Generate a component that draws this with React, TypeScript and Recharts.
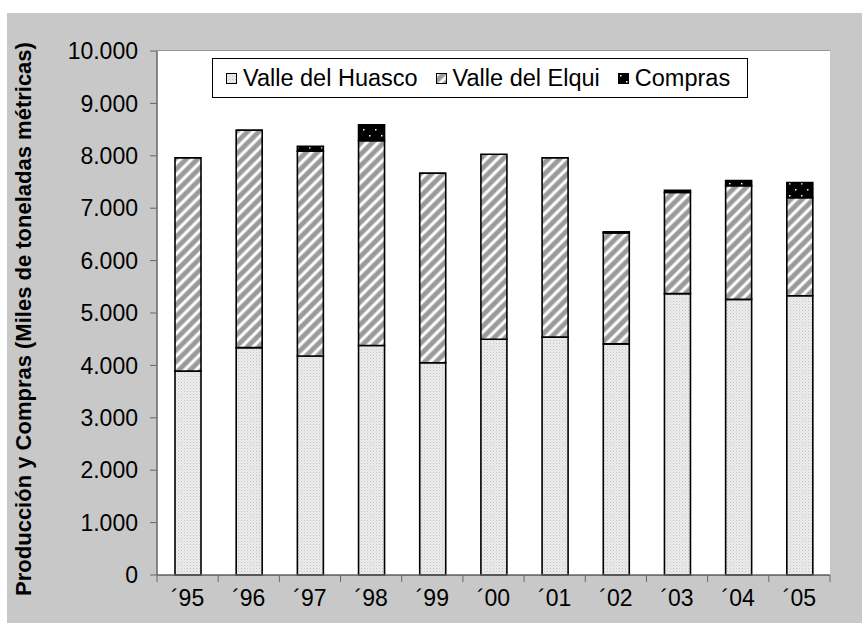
import { Bar, BarChart, CartesianGrid, XAxis, YAxis } from "recharts";

const years = ["´95", "´96", "´97", "´98", "´99", "´00", "´01", "´02", "´03", "´04", "´05"];
const huasco = [3890, 4340, 4180, 4380, 4050, 4500, 4540, 4410, 5370, 5260, 5330];
const elqui = [4070, 4150, 3910, 3910, 3620, 3530, 3420, 2120, 1930, 2170, 1870];
const compras = [0, 0, 90, 300, 0, 0, 0, 20, 40, 100, 290];
const yTicks = [0, 1000, 2000, 3000, 4000, 5000, 6000, 7000, 8000, 9000, 10000];

const series = [
  { key: "huasco", name: "Valle del Huasco", fill: "url(#patHuasco)" },
  { key: "elqui", name: "Valle del Elqui", fill: "url(#patElqui)" },
  { key: "compras", name: "Compras", fill: "url(#patCompras)" },
];

const data = years.map((year, i) => ({
  year,
  huasco: huasco[i],
  elqui: elqui[i],
  compras: compras[i],
}));

const W = 855;
const H = 610;
const MARGIN = { top: 38, right: 32, bottom: 0, left: 0 };
const Y_W = 150;
const X_H = 48;
const BAND = (W - MARGIN.left - MARGIN.right - Y_W) / years.length;
const FONT = "'Liberation Sans', Arial, sans-serif";

const fmt = (v: number) => String(v).replace(/\B(?=(\d{3})+(?!\d))/g, ".");

const XTick = (props: any) => {
  const { x, y, payload, index } = props;
  return (
    <g>
      {index === 0 && (
        <line x1={x - BAND / 2} x2={x - BAND / 2} y1={y} y2={y + 7} stroke="#666" />
      )}
      <line x1={x + BAND / 2} x2={x + BAND / 2} y1={y} y2={y + 7} stroke="#666" />
      <text x={x} y={y + 31} textAnchor="middle" fontSize={23} fill="#000" fontFamily={FONT}>
        {payload.value}
      </text>
    </g>
  );
};

const YLabel = (props: any) => {
  const { viewBox } = props;
  const cx = 16;
  const cy = viewBox ? viewBox.y + viewBox.height / 2 + 6 : 306;
  return (
    <text
      x={cx}
      y={cy}
      transform={`rotate(-90, ${cx}, ${cy})`}
      textAnchor="middle"
      dominantBaseline="central"
      fontSize={22}
      fontWeight="bold"
      fontFamily={FONT}
      fill="#000"
    >
      Producción y Compras (Miles de toneladas métricas)
    </text>
  );
};

const App = () => {
  return (
    <div
      style={{
        position: "absolute",
        left: 7,
        top: 13,
        width: W,
        height: H,
        background: "#c8c8c8",
        fontFamily: FONT,
      }}
    >
      <BarChart width={W} height={H} data={data} margin={MARGIN} barSize={26}>
        <defs>
          <pattern id="patHuasco" width="3" height="3" patternUnits="userSpaceOnUse">
            <rect width="3" height="3" fill="#ececec" />
            <rect x="0" y="0" width="1" height="1" fill="#c4c4c4" />
            <rect x="1.5" y="1.5" width="1" height="1" fill="#d4d4d4" />
          </pattern>
          <pattern
            id="patElqui"
            width="8"
            height="8"
            patternUnits="userSpaceOnUse"
            patternTransform="rotate(45)"
          >
            <rect width="8" height="8" fill="#9a9a9a" />
            <rect x="0" width="1" height="8" fill="#d0d0d0" />
            <rect x="1" width="2" height="8" fill="#ffffff" />
            <rect x="3" width="1" height="8" fill="#d0d0d0" />
          </pattern>
          <pattern id="patCompras" width="12" height="12" patternUnits="userSpaceOnUse">
            <rect width="12" height="12" fill="#000" />
            <rect x="2" y="2" width="1.5" height="1.5" fill="#fff" />
            <rect x="8" y="8" width="1.5" height="1.5" fill="#fff" />
          </pattern>
        </defs>
        <rect
          x={Y_W}
          y={MARGIN.top}
          width={W - MARGIN.right - Y_W}
          height={H - MARGIN.top - X_H}
          fill="#fff"
        />
        <CartesianGrid vertical={false} stroke="#666" strokeWidth={1.2} fill="#fff" />
        <XAxis
          dataKey="year"
          height={X_H}
          axisLine={{ stroke: "#666", strokeWidth: 1.5 }}
          tickLine={false}
          tickSize={0}
          tickMargin={0}
          tick={<XTick />}
          interval={0}
        />
        <YAxis
          width={Y_W}
          domain={[0, 10000]}
          ticks={yTicks}
          interval={0}
          tickFormatter={fmt}
          axisLine={{ stroke: "#666", strokeWidth: 1.5 }}
          tickLine={{ stroke: "#666" }}
          tickSize={7}
          tickMargin={12}
          tick={{ fontSize: 23, fill: "#000", fontFamily: FONT }}
          label={<YLabel />}
        />
        {series.map((s) => (
          <Bar
            key={s.key}
            dataKey={s.key}
            name={s.name}
            stackId="a"
            fill={s.fill}
            stroke="#000"
            strokeWidth={1.6}
            isAnimationActive={false}
          />
        ))}
      </BarChart>
      <div
        style={{
          position: "absolute",
          left: 205,
          top: 45,
          width: 536,
          height: 40,
          boxSizing: "border-box",
          border: "1px solid #000",
          background: "#fff",
          display: "flex",
          alignItems: "center",
          paddingLeft: 13,
          gap: 18,
          fontSize: 23.5,
          color: "#000",
          whiteSpace: "nowrap",
        }}
      >
        {series.map((s) => (
          <div key={s.key} style={{ display: "flex", alignItems: "center", gap: 6 }}>
            <svg width={11} height={11} style={{ display: "block" }}>
              <rect x={0.5} y={0.5} width={10} height={10} fill={s.fill} stroke="#000" />
            </svg>
            <span>{s.name}</span>
          </div>
        ))}
      </div>
    </div>
  );
};

export default App;
